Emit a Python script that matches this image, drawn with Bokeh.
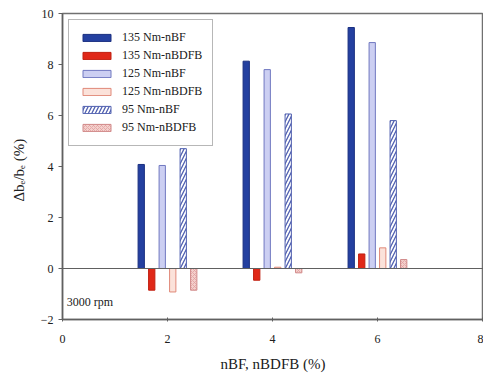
from bokeh.plotting import figure
from bokeh.models import ColumnDataSource, Span, Range1d, Legend, LegendItem, FixedTicker
from bokeh.transform import dodge
from bokeh.core.properties import value
from bokeh.embed import file_html
from bokeh.resources import INLINE

# data
loadings = [2, 4, 6]
b135_nBF = [4.08, 8.13, 9.45]
b135_nBDFB = [-0.85, -0.46, 0.57]
b125_nBF = [4.04, 7.80, 8.86]
b125_nBDFB = [-0.92, 0.05, 0.81]
b95_nBF = [4.70, 6.06, 5.80]
b95_nBDFB = [-0.85, -0.17, 0.35]
series_names = ["135 Nm-nBF", "135 Nm-nBDFB", "125 Nm-nBF", "125 Nm-nBDFB", "95 Nm-nBF", "95 Nm-nBDFB"]
x_ticks = [0, 2, 4, 6, 8]
y_ticks = [-2, 0, 2, 4, 6, 8, 10]

src = ColumnDataSource(dict(x=loadings, s0=b135_nBF, s1=b135_nBDFB, s2=b125_nBF,
                            s3=b125_nBDFB, s4=b95_nBF, s5=b95_nBDFB))

FONT = "Liberation Serif"
TXT = "#202020"
p = figure(width=483, height=378, output_backend="svg", toolbar_location=None,
           x_range=Range1d(0, 8.02), y_range=Range1d(-2, 10),
           min_border_left=62, min_border_right=0, min_border_top=13, min_border_bottom=59)
p.grid.visible = False
p.outline_line_color = "#707070"
p.outline_line_width = 1.5
p.background_fill_color = "white"
p.border_fill_color = "white"

styles = [
    dict(fill_color="#2440a0", line_color="#1a2f80"),
    dict(fill_color="#e02818", line_color="#c02010"),
    dict(fill_color="#cccff2", line_color="#7078c0"),
    dict(fill_color="#fbe2da", line_color="#e08878"),
    dict(fill_color="white", line_color="#5060b0", hatch_pattern="/", hatch_color="#5060b0",
         hatch_scale=7, hatch_weight=1.3),
    dict(fill_color="#f4d0cc", line_color="#d08888", hatch_pattern="x", hatch_color="#e0a0a0",
         hatch_scale=4, hatch_weight=0.8),
]
offsets = [-0.5 + 0.2 * i for i in range(6)]
renderers = []
for i, (off, st) in enumerate(zip(offsets, styles)):
    r = p.vbar(x=dodge("x", off, range=p.x_range), top="s%d" % i, bottom=0, width=0.12,
               source=src, line_width=1, **st)
    renderers.append(r)

p.add_layout(Span(location=0, dimension="width", line_color="#606060", line_width=1.2))

items = [LegendItem(label=n, renderers=[r]) for n, r in zip(series_names, renderers)]
leg = Legend(items=items, location="top_left", margin=6, padding=10, spacing=3,
             glyph_width=35, glyph_height=9, label_height=12,
             label_text_font=FONT, label_text_font_size="12px", label_text_color=TXT,
             label_standoff=8, border_line_color="#707070", border_line_width=1.5,
             background_fill_alpha=1)
p.add_layout(leg)

p.text(x=[0.08], y=[-1.3], text=["3000 rpm"], text_font=value(FONT), text_font_size="12px",
       text_baseline="middle", text_align="left", text_color=TXT)

p.xaxis.ticker = FixedTicker(ticks=x_ticks)
p.yaxis.ticker = FixedTicker(ticks=y_ticks)
p.xaxis.minor_tick_line_color = None
p.yaxis.minor_tick_line_color = None
for ax in (p.xaxis, p.yaxis):
    ax.axis_line_color = "#606060"
    ax.axis_line_width = 1.5
    ax.major_tick_line_color = "#606060"
    ax.major_label_text_font = FONT
    ax.major_label_text_font_size = "12px"
    ax.major_label_text_color = TXT
    ax.axis_label_text_font = FONT
    ax.axis_label_text_font_style = "normal"
    ax.axis_label_text_font_size = "15px"
    ax.axis_label_text_color = TXT
p.yaxis.major_tick_out = 4
p.yaxis.major_tick_in = 0
p.yaxis.major_label_standoff = 5
p.xaxis.major_tick_out = 2
p.xaxis.major_tick_in = 2
p.xaxis.major_label_standoff = 13
p.xaxis.axis_label = "nBF, nBDFB (%)"
p.xaxis.axis_label_standoff = 10
p.yaxis.axis_label = "Δbₑ/bₑ   (%)"
p.yaxis.axis_label_standoff = 11

open("out.html", "w").write(file_html(p, INLINE))
